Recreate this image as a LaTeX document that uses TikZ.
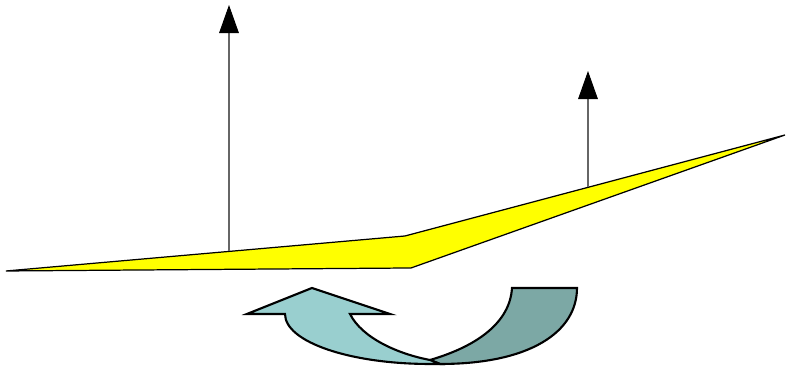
\documentclass[tikz,border=0pt]{standalone}
\usepackage{xcolor}
\usepackage{tikz}
\usetikzlibrary{arrows.meta}
\definecolor{wingyel}{HTML}{FFFF00}
\definecolor{lightteal}{HTML}{99CFCF}
\definecolor{darkteal}{HTML}{7CA8A5}
\tikzset{wing/.style={line width=0.35pt,fill=wingyel},
  lift/.style={line width=0.3pt,black!60,-{Triangle[width=5.6pt,length=8pt,black]}},
  turnarr/.style={line width=0.6pt,line join=miter}}
\begin{document}
\begin{tikzpicture}[x=0.01cm,y=-0.01cm]
\useasboundingbox (0,0) rectangle (787,368);
\coordinate (L) at (6,271); \coordinate (K) at (405,236); \coordinate (R) at (785,135); \coordinate (Kb) at (411,268);
\draw[wing] (L)--(K)--(R)--(Kb)--cycle;
\coordinate (F1) at (229,251); \coordinate (T1) at (229,5);
\coordinate (F2) at (588,187); \coordinate (T2) at (588,71);
\draw[lift] (F1) -- (T1); \draw[lift] (F2) -- (T2);
% turning arrow
\draw[turnarr,fill=darkteal] (512,288) -- (577,288) .. controls (577,332) and (530,364) .. (440,364) -- (430,360)
  .. controls (478,346) and (510,322) .. (512,288) -- cycle;
\draw[turnarr,fill=lightteal] (312,288) -- (390,314) -- (350,314) .. controls (362,338) and (398,354) .. (430,360)
  -- (440,364) -- (430,364) .. controls (350,364) and (285,342) .. (285,314) -- (247,314) -- cycle;
\end{tikzpicture}
\end{document}
